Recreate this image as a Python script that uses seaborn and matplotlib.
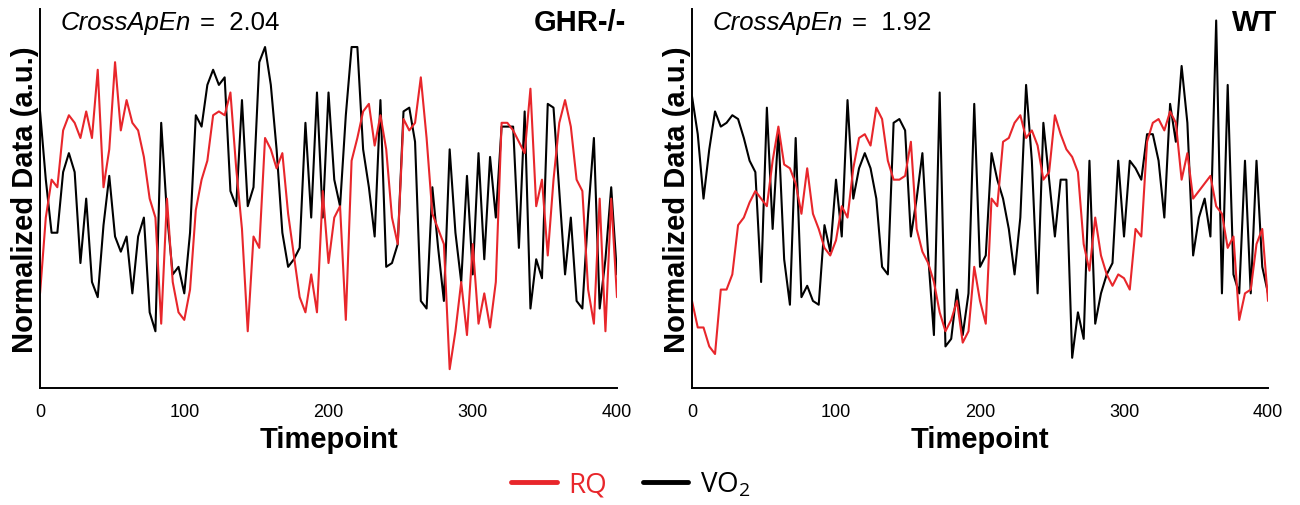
import matplotlib
matplotlib.use("Agg")
import matplotlib.pyplot as plt
from matplotlib.lines import Line2D
import seaborn as sns
import pandas as pd

# === DATA (every 4th timepoint, 0-100 a.u.) ===
timepoints = list(range(0, 401, 4))

ghr_vo2 = [73, 55, 41, 41, 57, 62, 57, 33, 50, 28, 24, 43, 56, 40, 36, 40, 25, 40, 45, 20,
           15, 70, 46, 30, 32, 25, 41, 72, 69, 80, 84, 80, 82,
           52, 48, 76, 48, 53, 86, 90, 80, 63, 41, 32, 34, 37, 70, 45, 78, 45, 78, 55, 48,
           72, 90, 90, 63, 53, 40, 76, 32, 33, 38, 73, 74, 65,
           23, 21, 53, 37, 23, 63, 41, 28, 56, 30, 62, 34, 61, 45, 69, 69, 69, 37, 73, 21,
           34, 29, 75, 74, 52, 30, 45, 23, 21, 46, 66, 21, 34, 53, 30]
ghr_rq = [25, 45, 55, 53, 68, 72, 70, 66, 73, 66, 84, 53, 63, 86, 68, 76, 70, 68, 61, 50,
          45, 17, 50, 28, 20, 18, 26, 47, 55, 60, 72, 73, 72,
          78, 58, 42, 15, 40, 37, 66, 63, 58, 62, 46, 35, 24, 20, 30, 20, 52, 33, 45, 48,
          18, 60, 66, 73, 75, 64, 72, 63, 45, 38, 71, 68, 70,
          82, 66, 46, 42, 38, 5, 15, 28, 14, 38, 17, 25, 16, 28, 70, 70, 68, 65, 62, 79,
          48, 55, 35, 55, 70, 76, 69, 55, 52, 26, 17, 50, 15, 50, 24]
wt_vo2 = [77, 67, 50, 63, 73, 69, 70, 72, 71, 66, 60, 57, 28, 74, 42, 68, 34, 22, 66, 24,
          27, 23, 22, 43, 36, 55, 40, 76, 50, 58, 62, 58, 50,
          32, 30, 70, 71, 68, 40, 50, 62, 35, 14, 78, 11, 13, 26, 14, 25, 75, 32, 35, 62,
          55, 50, 42, 30, 45, 80, 60, 25, 70, 55, 40, 55, 55,
          8, 20, 13, 60, 17, 25, 30, 33, 60, 40, 60, 58, 55, 67, 67, 60, 45, 75, 65, 85,
          70, 35, 45, 50, 40, 97, 25, 80, 30, 25, 60, 25, 60, 32, 25]
wt_rq = [23, 16, 16, 11, 9, 26, 26, 30, 43, 45, 49, 52, 50, 48, 60, 69, 59, 58, 54, 46,
         58, 46, 42, 37, 35, 39, 48, 45, 58, 66, 67, 64, 74,
         71, 60, 55, 55, 56, 65, 42, 36, 33, 28, 20, 15, 18, 23, 12, 15, 32, 23, 17, 50,
         48, 65, 66, 70, 72, 66, 68, 64, 55, 57, 72, 67, 63,
         61, 57, 38, 31, 45, 35, 30, 27, 30, 29, 26, 42, 40, 65, 70, 71, 68, 73, 70, 55,
         62, 50, 52, 54, 56, 48, 46, 37, 40, 18, 25, 26, 38, 42, 23]

panels = ["GHR-/-", "WT"]
cross_apen = [2.04, 1.92]
series = {"GHR-/-": (ghr_rq, ghr_vo2), "WT": (wt_rq, wt_vo2)}

RED = "#E8262B"
palette = {"VO2": "black", "RQ": RED}

sns.set_style("white")
plt.rcParams["font.family"] = ["Liberation Sans", "DejaVu Sans"]
plt.rcParams["text.color"] = "black"
plt.rcParams["axes.labelcolor"] = "black"
plt.rcParams["xtick.color"] = "black"

fig = plt.figure(figsize=(13, 5.06), dpi=100)
axes = [fig.add_axes([0.0308, 0.231, 0.4438, 0.749]),
        fig.add_axes([0.5323, 0.231, 0.4431, 0.749])]

for ax, name, ape in zip(axes, panels, cross_apen):
    rq, vo2 = series[name]
    df = pd.DataFrame({
        "Timepoint": timepoints * 2,
        "value": vo2 + rq,
        "series": ["VO2"] * len(vo2) + ["RQ"] * len(rq),
    })
    sns.lineplot(data=df, x="Timepoint", y="value", hue="series",
                 hue_order=["VO2", "RQ"], palette=palette, linewidth=1.5,
                 legend=False, ax=ax)
    ax.set_xlim(0, 400)
    ax.set_ylim(0, 100)
    ax.set_xticks([0, 100, 200, 300, 400])
    ax.set_yticks([])
    ax.tick_params(axis="x", direction="out", length=6, width=1.3, color="black",
                   labelsize=13, pad=5)
    for side in ["top", "right"]:
        ax.spines[side].set_visible(False)
    for side in ["left", "bottom"]:
        ax.spines[side].set_color("black")
        ax.spines[side].set_linewidth(1.4)
    ax.set_xlabel("Timepoint", fontsize=21, fontweight="bold", labelpad=3)
    ax.set_ylabel("Normalized Data (a.u.)", fontsize=21, fontweight="bold", labelpad=1)
    ax.text(0.035, 0.965, "CrossApEn", transform=ax.transAxes, fontsize=18.5,
            style="italic", va="center", ha="left")
    ax.text(0.277, 0.965, "=  %.2f" % ape, transform=ax.transAxes, fontsize=18.5,
            va="center", ha="left")
    ax.text(1.016, 0.965, name, transform=ax.transAxes, fontsize=21,
            fontweight="bold", va="center", ha="right")

handles = [Line2D([], [], color=RED, lw=3.5), Line2D([], [], color="black", lw=3.5)]
leg = fig.legend(handles, ["RQ", "VO$_\\mathregular{2}$"], loc="center",
                 bbox_to_anchor=(0.485, 0.041), ncol=2, frameon=False,
                 handlelength=1.65, handletextpad=0.4, columnspacing=1.3,
                 prop={"family": "Open Sans", "size": 20})
leg.get_texts()[0].set_color(RED)

fig.savefig("out.png", dpi=100)
